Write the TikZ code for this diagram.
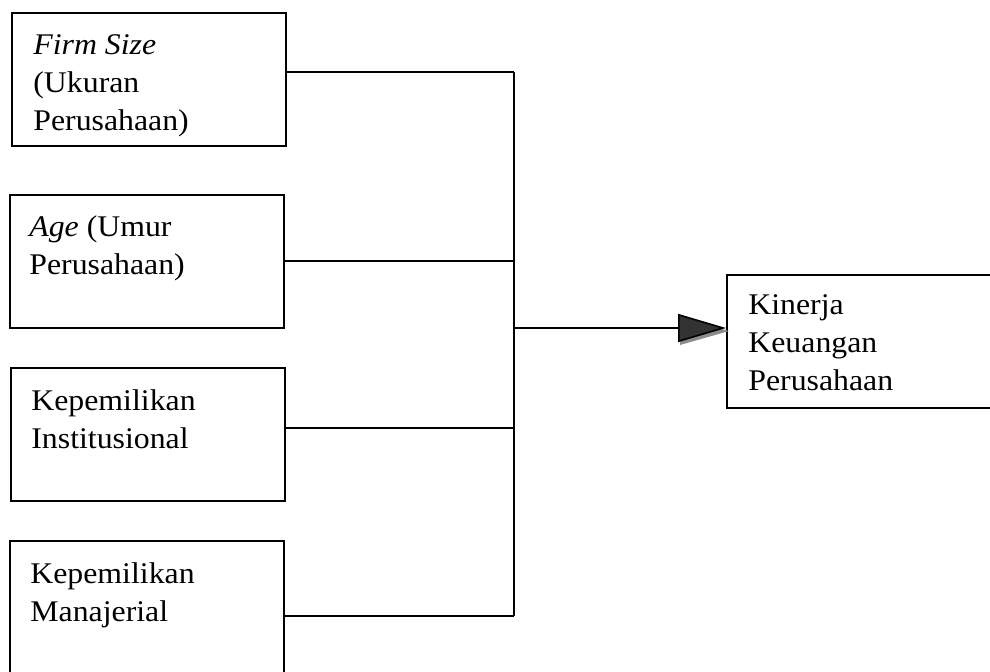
\documentclass[tikz,border=0pt]{standalone}
\usepackage{fontspec}
\setmainfont{Liberation Serif}[FakeStretch=1.06]
\usetikzlibrary{arrows.meta}

\tikzset{
  kotak/.style={draw=black, line width=0.8pt, anchor=north west,
    minimum width=137pt, minimum height=66.5pt, inner sep=0pt},
  teks/.style={anchor=north west, align=left, inner sep=0pt,
    font=\fontsize{15pt}{19pt}\selectfont},
  garis/.style={black, line width=0.8pt},
  panah/.style={garis, -{Triangle[length=24pt, width=14pt, fill=black!80]}}
}

\begin{document}
\begin{tikzpicture}[x=0.5pt, y=-0.5pt]
	\useasboundingbox (0,0) rectangle (990,671);
	\clip (0,0) rectangle (990,671);
	
	% kotak variabel
	\node[kotak] (ukuran) at (11,12) {};
	\node[kotak] (umur) at (9,194) {};
	\node[kotak] (inst) at (10,367) {};
	\node[kotak, minimum height=72pt] (manj) at (9,540) {};
	\node[kotak, minimum width=142pt] (kinerja) at (726,274) {};
	
	\node[teks] (tukuran) at ([shift={(22,22)}]ukuran.north west)
		{\textit{Firm Size}\\(Ukuran\\Perusahaan)};
	\node[teks] (tumur) at ([shift={(20,21)}]umur.north west)
		{\textit{Age} (Umur\\Perusahaan)};
	\node[teks] (tinst) at ([shift={(21,22)}]inst.north west)
		{Kepemilikan\\Institusional};
	\node[teks] (tmanj) at ([shift={(21,22)}]manj.north west)
		{Kepemilikan\\Manajerial};
	\node[teks] (tkinerja) at ([shift={(22,20)}]kinerja.north west)
		{Kinerja\\Keuangan\\Perusahaan};
	
	% garis penghubung
	\coordinate (t1) at (514,72);
	\coordinate (t2) at (514,261);
	\coordinate (t3) at (514,428);
	\coordinate (t4) at (514,616);
	\coordinate (tengah) at (514,328);
	\coordinate (ujung) at (kinerja.west |- tengah);
	
	\draw[garis] (ukuran.east |- t1) -- (t1);
	\draw[garis] (umur.east |- t2) -- (t2);
	\draw[garis] (inst.east |- t3) -- (t3);
	\draw[garis] (manj.east |- t4) -- (t4);
	\draw[garis] (t1) -- (t4);
	
	% bayangan panah
	\fill[black!45] ([shift={(-46,-11)}]ujung) -- ([shift={(3,3)}]ujung)
		-- ([shift={(-46,17)}]ujung) -- cycle;
	\draw[panah] (tengah) -- (ujung);
\end{tikzpicture}
\end{document}
